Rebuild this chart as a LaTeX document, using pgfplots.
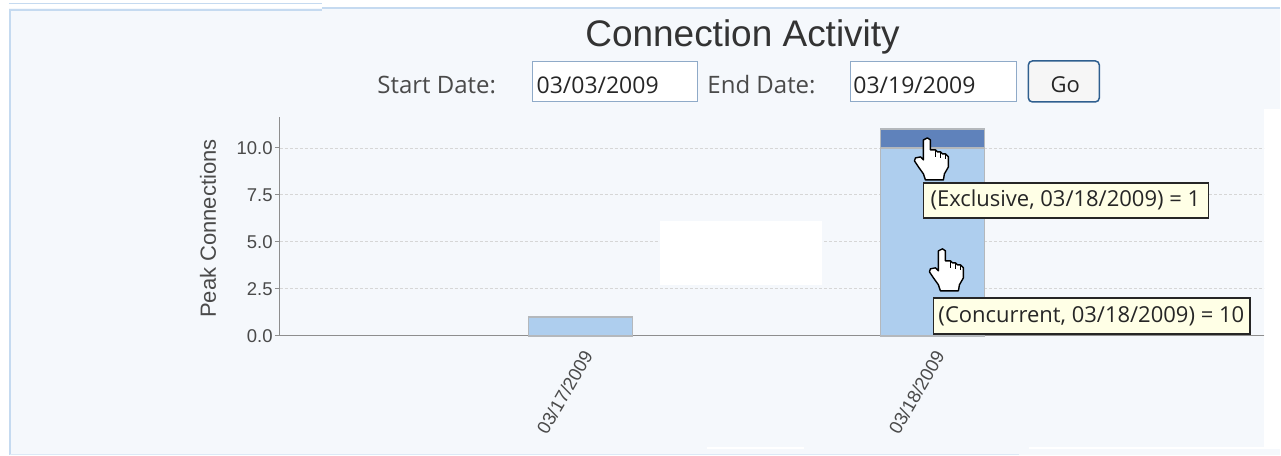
\documentclass[border=0pt]{standalone}
\usepackage{pgfplots}
\pgfplotsset{compat=1.18}
\usepackage{fontspec}
\setmainfont{Liberation Sans}
\newfontfamily\uifont{Open Sans}
\definecolor{pagebg}{HTML}{F5F8FC}
\definecolor{frameblue}{HTML}{C5DAF0}
\definecolor{conc}{HTML}{AECEEE}
\definecolor{excl}{HTML}{5F82BB}
\definecolor{barline}{HTML}{B4B8BC}
\definecolor{axgray}{HTML}{8E8E8E}
\definecolor{txt}{HTML}{4A4A4A}
\definecolor{tipbg}{HTML}{FFFFE6}
\definecolor{fieldline}{HTML}{8FAAC8}
\definecolor{btnline}{HTML}{2F5F8F}
\pgfplotstableread{
x conc excl
0 1 0
1 10 1
}\datatable
\tikzset{
  hand/.pic={
    \draw[black,line width=1.4pt,fill=white,line join=round]
      (-3,-1) -- (-3,-21) -- (-6,-18) -- (-11,-19) -- (-12,-22) -- (-8,-28) -- (-3,-35) -- (-1,-41)
      -- (17,-41) -- (18,-35) -- (22,-28) -- (22,-18) -- (19,-15) -- (16,-15) -- (14,-13)
      -- (11,-13) -- (9,-11) -- (4,-11) -- (4,-1) -- (1,1) -- cycle;
    \draw[black,line width=0.9pt] (9,-11) -- (9,-18) (14,-13) -- (14,-19) (19,-15) -- (19,-20);
  }
}
\begin{document}
\begin{tikzpicture}[x=1pt,y=1pt]
% page
\fill[white!97!pagebg] (0,0) rectangle (1281,455);
\fill[pagebg] (9,0) rectangle (1281,447);
\fill[white] (1265,6) rectangle (1281,346);
\fill[white] (707,6) rectangle (804,8);
\fill[white] (1030,6) rectangle (1281,8);
\draw[frameblue,line width=1.6pt] (10,0) -- (10,445) -- (322,445);
\draw[frameblue,line width=1.6pt] (322,447) -- (1281,447);
\draw[frameblue,line width=1.6pt] (9,451.5) -- (322,451.5);
\draw[frameblue!60,line width=1pt] (10,0.5) -- (1020,0.5);
% header
\node[anchor=center,font=\fontsize{37}{42}\selectfont,text=black!80] at (743,418) {Connection Activity};
\node[anchor=center,font=\uifont\fontsize{24}{28}\selectfont,text=txt] at (437,370) {Start Date:};
\node[anchor=center,font=\uifont\fontsize{24}{28}\selectfont,text=txt] at (762,370) {End Date:};
\draw[fieldline,fill=white,line width=1pt] (533,353) rectangle (698,393);
\draw[fieldline,fill=white,line width=1pt] (851,353) rectangle (1017,393);
\node[anchor=center,font=\uifont\fontsize{23}{28}\selectfont,text=black!85] at (598,370) {03/03/2009};
\node[anchor=center,font=\uifont\fontsize{23}{28}\selectfont,text=black!85] at (915,370) {03/19/2009};
\draw[fill=white!93!gray,draw=btnline,line width=1.5pt,rounded corners=4pt] (1029,353) rectangle (1100,394);
\node[anchor=center,font=\uifont\fontsize{22}{26}\selectfont,text=black!85] at (1066,370) {Go};
% chart
\begin{axis}[
  at={(280pt,119pt)},anchor=south west,
  scale only axis,width=985pt,height=219pt,
  xmin=-0.855,xmax=1.943,ymin=0,ymax=11.65,
  axis x line*=bottom,axis y line*=left,
  axis line style={axgray,line width=1pt,-},
  ybar stacked,bar width=104pt,
  xtick={0,1},xticklabels={03/17/2009,03/18/2009},
  ytick={0,2.5,5,7.5,10},
  yticklabels={0.0,2.5,5.0,7.5,10.0},
  tick style={axgray,line width=1pt},
  xtick style={draw=none},
  major tick length=5pt,
  tick align=outside,
  ymajorgrids,
  major grid style={black!16,dash pattern=on 3pt off 2pt,line width=0.8pt},
  ylabel={Peak Connections},
  ylabel style={font=\fontsize{22}{26}\selectfont,text=txt,at={(rel axis cs:-0.073,0.49)},anchor=center,rotate=0},
  yticklabel style={font=\fontsize{18.5}{22}\selectfont,text=txt,inner sep=2pt},
  /pgf/number format/assume math mode=true,
  xticklabel style={font=\fontsize{18.5}{22}\selectfont,text=txt,rotate=60,anchor=east,yshift=-12pt,xshift=-3pt},
  clip=false,
]
\addplot+[fill=conc,draw=barline,line width=1.5pt] table[x=x,y=conc]{\datatable};
\addplot+[fill=excl,draw=barline,line width=1.5pt] table[x=x,y=excl]{\datatable};
\end{axis}
% white patch
\fill[white] (660,170) rectangle (823,234);
% tooltips and cursors
\pic at (927,316) {hand};
\pic at (942,205) {hand};
\draw[black!85,fill=tipbg,line width=1.5pt] (924,272) rectangle (1209,237);
\node[anchor=center,font=\uifont\fontsize{22}{26}\selectfont,text=black!85] at (1066,254.5) {(Exclusive, 03/18/2009) = 1};
\draw[black!85,fill=tipbg,line width=1.5pt] (934,157) rectangle (1251,121);
\node[anchor=center,font=\uifont\fontsize{22}{26}\selectfont,text=black!85] at (1092,139) {(Concurrent, 03/18/2009) = 10};
\end{tikzpicture}
\end{document}
